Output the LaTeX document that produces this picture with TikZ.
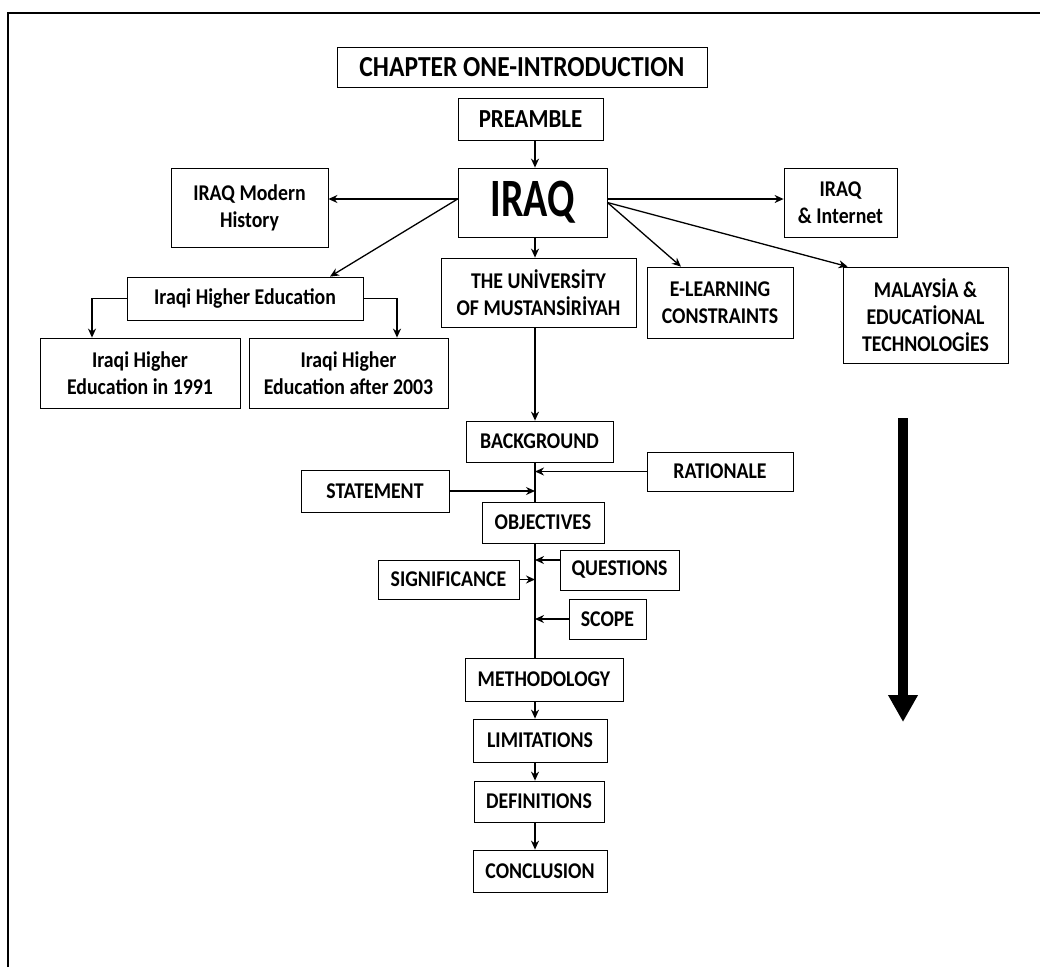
\documentclass[tikz,border=0pt]{standalone}
\usepackage{fontspec}
\setmainfont{Carlito}[FakeStretch=0.88]
\newfontfamily\condfont{Carlito}[FakeStretch=0.74]
\usetikzlibrary{arrows.meta,calc}
\begin{document}
\begin{tikzpicture}[x=1pt,y=-1pt,
  box/.style={draw, line width=0.8pt, align=center, inner sep=0pt,
    font=\bfseries\fontsize{22.5}{27}\selectfont},
  conn/.style={line width=1.3pt, -{Stealth[length=9pt,width=8pt]}},
  plain/.style={line width=1.3pt}]
\useasboundingbox (0,0) rectangle (1040,967);
% frame
\draw[line width=2.5pt] (8,967) -- (8,13) -- (1040,13);
% spine reference
\coordinate (sp) at (535,0);
% nodes
\node[box, minimum width=370pt, minimum height=40pt, font=\bfseries\fontsize{29}{32}\selectfont] (chap) at (522,67) {CHAPTER ONE-INTRODUCTION};
\node[box, minimum width=145pt, minimum height=42pt, font=\bfseries\fontsize{26}{30}\selectfont] (pre) at (530.5,119) {PREAMBLE};
\node[box, minimum width=149pt, minimum height=69pt, font=\condfont\bfseries\fontsize{54}{58}\selectfont] (iraq) at (532.5,202.5) {IRAQ};
\node[box, minimum width=195pt, minimum height=69pt] (univ) at (538.5,292.5) {THE UNİVERSİTY\\OF MUSTANSİRİYAH};
\node[box, minimum width=157pt, minimum height=79pt] (hist) at (249.5,207.5) {IRAQ Modern\\History};
\node[box, minimum width=236pt, minimum height=43pt] (ihe) at (245,298.5) {Iraqi Higher Education};
\node[box, minimum width=200pt, minimum height=70pt] (ihe91) at (140,373) {Iraqi Higher\\Education in 1991};
\node[box, minimum width=199pt, minimum height=70pt] (ihe03) at (348.5,373) {Iraqi Higher\\Education after 2003};
\node[box, minimum width=113pt, minimum height=69pt] (inet) at (840.5,202.5) {IRAQ\\\& Internet};
\node[box, minimum width=146pt, minimum height=71pt] (elearn) at (720,302.5) {E-LEARNING\\CONSTRAINTS};
\node[box, minimum width=165pt, minimum height=96pt] (malay) at (925.5,315) {MALAYSİA \&\\EDUCATİONAL\\TECHNOLOGİES};
\node[box, minimum width=147pt, minimum height=41pt] (bg) at (539.5,441.5) {BACKGROUND};
\node[box, minimum width=146pt, minimum height=39pt] (rat) at (720,471.5) {RATIONALE};
\node[box, minimum width=148pt, minimum height=42pt] (stmt) at (375,491) {STATEMENT};
\node[box, minimum width=122pt, minimum height=41pt] (obj) at (543,522.5) {OBJECTIVES};
\node[box, minimum width=119pt, minimum height=40pt] (ques) at (619.5,570) {QUESTIONS};
\node[box, minimum width=141pt, minimum height=39pt] (sig) at (448.5,579.5) {SIGNIFICANCE};
\node[box, minimum width=77pt, minimum height=40pt] (scope) at (607.5,619) {SCOPE};
\node[box, minimum width=158pt, minimum height=43pt] (meth) at (544,679.5) {METHODOLOGY};
\node[box, minimum width=134pt, minimum height=43pt] (lim) at (540,740.5) {LIMITATIONS};
\node[box, minimum width=130pt, minimum height=41pt] (def) at (539,801.5) {DEFINITIONS};
\node[box, minimum width=134pt, minimum height=42pt] (conc) at (540,871) {CONCLUSION};
% connectors from IRAQ
\draw[conn] (pre.south -| sp) -- (iraq.north -| sp);
\draw[conn] (iraq.south -| sp) -- (univ.north -| sp);
\draw[conn] ([yshift=3.5pt]iraq.west) -- ([yshift=3.5pt]iraq.west -| hist.east);
\draw[conn] ([yshift=3.5pt]iraq.west) -- ([xshift=85pt]ihe.north);
\draw[conn] ([yshift=3.5pt]iraq.east) -- ([yshift=3.5pt]iraq.east -| inet.west);
\draw[conn] (iraq.east) -- ([xshift=-39pt]elearn.north);
\draw[conn] (iraq.east) -- ([xshift=5pt]malay.north west);
% higher education branches
\draw[conn] (ihe.west) -| ([xshift=-48pt]ihe91.north);
\draw[conn] (ihe.east) -| ([xshift=48.5pt]ihe03.north);
% spine
\draw[conn] (univ.south -| sp) -- (bg.north -| sp);
\draw[plain] (bg.south -| sp) -- (obj.north -| sp);
\draw[conn] (rat.west) -- (rat.west -| sp);
\draw[conn] (stmt.east) -- (stmt.east -| sp);
\draw[plain] (obj.south -| sp) -- (meth.north -| sp);
\draw[conn] ([yshift=10pt]ques.west) -- ([yshift=10pt]ques.west -| sp);
\draw[conn] (sig.east) -- (sig.east -| sp);
\draw[conn] (scope.west) -- (scope.west -| sp);
\draw[conn] (meth.south -| sp) -- (lim.north -| sp);
\draw[conn] (lim.south -| sp) -- (def.north -| sp);
\draw[conn] (def.south -| sp) -- (conc.north -| sp);
% big arrow
\coordinate (bigA) at (903,418);
\coordinate (bigB) at (903,722);
\draw[line width=10pt, -{Triangle[length=27pt,width=28pt]}] (bigA) -- (bigB);
\end{tikzpicture}
\end{document}
